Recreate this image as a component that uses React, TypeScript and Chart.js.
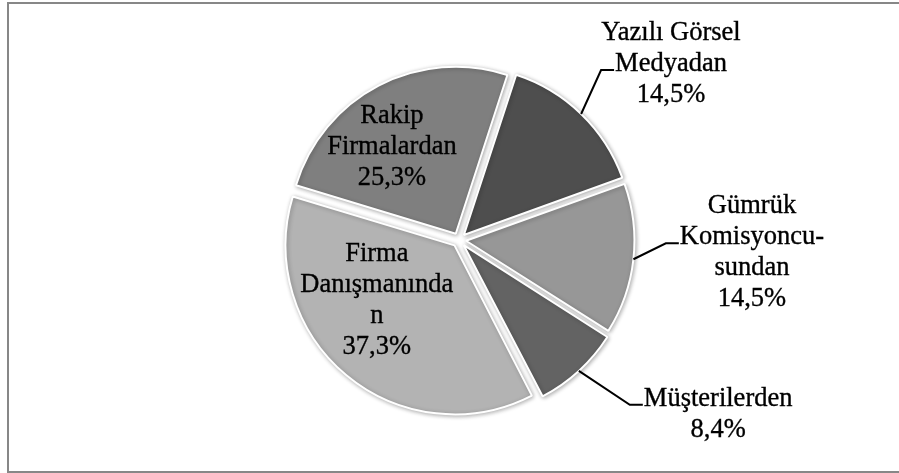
import React, { useEffect, useRef } from 'react';
import { Chart, registerables } from 'chart.js';

Chart.register(...registerables);

// ---- data ----
const categories: string[][] = [
  ['Yazılı Görsel', 'Medyadan'],
  ['Gümrük', 'Komisyoncu-', 'sundan'],
  ['Müşterilerden'],
  ['Firma', 'Danışmanında', 'n'],
  ['Rakip', 'Firmalardan'],
];
const values: number[] = [14.5, 14.5, 8.4, 37.3, 25.3];
const valueLabels: string[] = ['14,5%', '14,5%', '8,4%', '37,3%', '25,3%'];
const colors: string[] = ['#4e4e4e', '#979797', '#636363', '#b3b3b3', '#7f7f7f'];

// ---- label placement (relative to each slice) ----
// angle: degrees shift from slice mid angle; dist: multiple of outer radius; leader: line index the leader points at
const placement = [
  { angle: 6.2, dist: 1.65, leader: 1 },
  { angle: -3.8, dist: 1.756, leader: 1 },
  { angle: -13.6, dist: 1.87, leader: 0 },
  { angle: 14, dist: 0.61, leader: -1 },
  { angle: -8.3, dist: 0.686, leader: -1 },
];

const FONT = '26.5px "Liberation Serif", "Times New Roman", serif';
const LINE_H = 31;
const SX = 1.0;
const OFFSET = 28;

const framePlugin = {
  id: 'frame',
  beforeDraw(chart: any) {
    const ctx = chart.ctx;
    ctx.save();
    ctx.fillStyle = '#ffffff';
    ctx.fillRect(0, 0, chart.width, chart.height);
    ctx.strokeStyle = '#878787';
    ctx.lineWidth = 2;
    ctx.strokeRect(8, 3, 900, 469);
    ctx.restore();
  },
};

const shadowPlugin = {
  id: 'sliceShadow',
  beforeDatasetsDraw(chart: any) {
    const ctx = chart.ctx;
    ctx.save();
    ctx.shadowColor = 'rgba(0,0,0,0.3)';
    ctx.shadowBlur = 4;
    ctx.shadowOffsetX = 1;
    ctx.shadowOffsetY = 1;
  },
  afterDatasetsDraw(chart: any) {
    chart.ctx.restore();
  },
};

const labelPlugin = {
  id: 'sliceLabels',
  afterDatasetsDraw(chart: any) {
    const ctx = chart.ctx;
    const meta = chart.getDatasetMeta(0);
    ctx.save();
    ctx.font = FONT;
    ctx.fillStyle = '#000000';
    ctx.strokeStyle = '#000000';
    ctx.textAlign = 'center';
    ctx.textBaseline = 'middle';
    meta.data.forEach((arc: any, i: number) => {
      const p = placement[i];
      const { x: cx, y: cy, startAngle, endAngle, outerRadius } = arc.getProps(
        ['x', 'y', 'startAngle', 'endAngle', 'outerRadius'],
        true
      );
      const mid = (startAngle + endAngle) / 2;
      const a = mid + (p.angle * Math.PI) / 180;
      const lx = cx + Math.cos(a) * outerRadius * p.dist;
      const ly = cy + Math.sin(a) * outerRadius * p.dist;
      const lines = [...categories[i], valueLabels[i]];
      const y0 = ly - ((lines.length - 1) * LINE_H) / 2;
      lines.forEach((line, k) => {
        ctx.save();
        ctx.translate(lx, y0 + k * LINE_H);
        ctx.scale(SX, 1);
        ctx.fillText(line, 0, 0);
        ctx.lineWidth = 0.35;
        ctx.strokeText(line, 0, 0);
        ctx.restore();
      });
      if (p.leader >= 0) {
        const circ = endAngle - startAngle;
        const fix = 1 - Math.sin(Math.min(Math.PI, circ));
        const shift = (OFFSET / 4) * (1 + fix);
        const r = outerRadius + shift;
        const ax = cx + Math.cos(mid) * r;
        const ay = cy + Math.sin(mid) * r;
        const w = ctx.measureText(lines[p.leader]).width * SX;
        const ex = lx - w / 2 - 1;
        const ey = y0 + p.leader * LINE_H + 6;
        ctx.beginPath();
        ctx.strokeStyle = '#000000';
        ctx.lineWidth = 2;
        ctx.lineJoin = 'miter';
        ctx.moveTo(ax, ay);
        ctx.lineTo(ex - 13, ey);
        ctx.lineTo(ex, ey);
        ctx.stroke();
      }
    });
    ctx.restore();
  },
};

export default function App() {
  const ref = useRef<HTMLCanvasElement | null>(null);
  useEffect(() => {
    if (!ref.current) return;
    const chart = new Chart(ref.current, {
      type: 'pie',
      data: {
        labels: categories.map((c) => c.join(' ')),
        datasets: [
          {
            data: values,
            backgroundColor: colors,
            borderColor: '#ffffff',
            borderWidth: 2,
            offset: OFFSET,
            hoverOffset: 0,
            radius: 167,
            rotation: 18,
          } as any,
        ],
      },
      options: {
        responsive: false,
        animation: false,
        devicePixelRatio: 1,
        layout: { padding: { left: 19, right: 0, top: 7, bottom: 0 } },
        plugins: {
          legend: { display: false },
          tooltip: { enabled: false },
        },
        events: [],
      },
      plugins: [framePlugin, shadowPlugin, labelPlugin],
    });
    return () => chart.destroy();
  }, []);
  return (
    <div style={{ position: 'absolute', left: 0, top: 0, width: 899, height: 473 }}>
      <canvas ref={ref} width={899} height={473} style={{ display: 'block' }} />
    </div>
  );
}
